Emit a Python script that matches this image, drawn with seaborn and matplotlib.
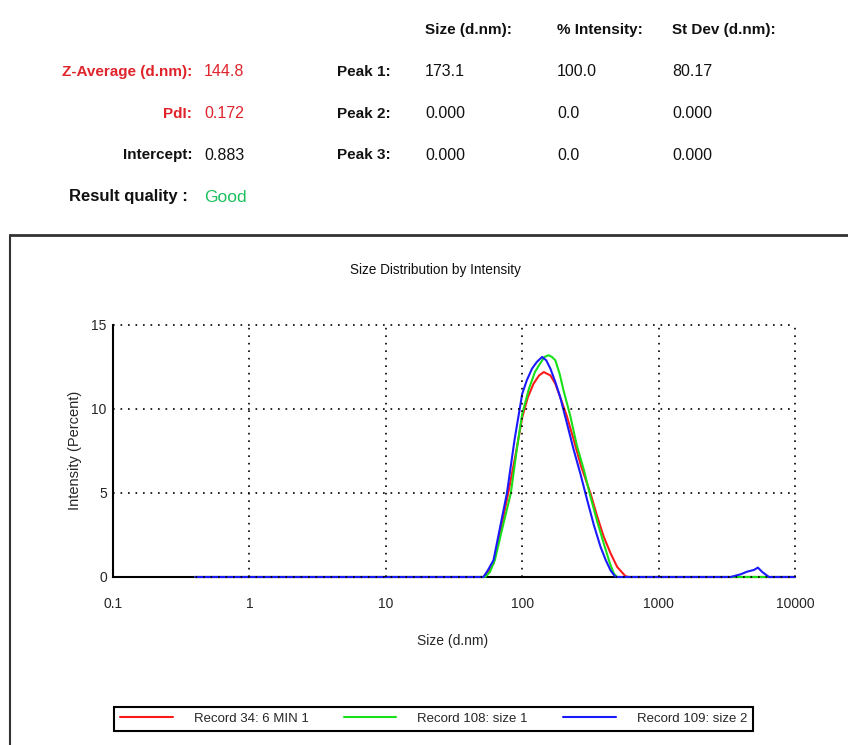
import matplotlib
matplotlib.use('Agg')
import matplotlib.pyplot as plt
import matplotlib.ticker as mticker
from matplotlib.lines import Line2D
import seaborn as sns
import pandas as pd

### DATA

# header summary
summary_labels = ['Z-Average (d.nm):', 'PdI:', 'Intercept:']
summary_values = ['144.8', '0.172', '0.883']
summary_colors = ['#e0242c', '#e0242c', '#111111']
quality = 'Good'

peak_labels = ['Peak 1:', 'Peak 2:', 'Peak 3:']
peak_columns = ['Size (d.nm):', '% Intensity:', 'St Dev (d.nm):']
peak_size = ['173.1', '0.000', '0.000']
peak_intensity = ['100.0', '0.0', '0.0']
peak_stdev = ['80.17', '0.000', '0.000']

# size distribution curves (size in d.nm, intensity in percent)
records = ['Record 34: 6 MIN 1', 'Record 108: size 1', 'Record 109: size 2']

size_34 = [0.4, 52, 56, 61.6, 70, 79, 90, 100, 110, 121, 133, 144, 152, 161, 175,
           190, 212, 238, 270, 316, 355, 396, 445, 497, 571, 604, 10000]
int_34 = [0, 0, 0.3, 0.8, 2.9, 5.0, 7.4, 9.5, 10.7, 11.5, 12.0, 12.2, 12.1, 12.0, 11.5,
          10.7, 9.6, 8.2, 6.6, 5.0, 3.6, 2.4, 1.4, 0.6, 0.05, 0, 0]

size_108 = [0.4, 53.5, 58, 63, 72, 82.6, 92, 100, 112, 124, 135, 146, 156, 165, 175,
            188, 201, 225, 252, 285, 316, 355, 396, 440, 470, 497, 3400, 6400, 10000]
int_108 = [0, 0, 0.3, 1.0, 3.0, 5.0, 7.8, 9.7, 11.2, 12.2, 12.7, 13.1, 13.2, 13.1, 12.9,
           12.1, 11.1, 9.6, 7.8, 6.3, 4.8, 3.3, 2.0, 0.8, 0.2, 0, 0, 0, 0]

size_109 = [0.4, 52, 56, 61.6, 69, 77.3, 88, 100, 108, 118, 128, 140, 150, 161, 175,
            190, 212, 238, 268, 299, 335, 375, 410, 444, 483, 3375, 3992, 4466,
            5000, 5346, 5750, 6440, 10000]
int_109 = [0, 0, 0.4, 1.0, 3.0, 5.0, 8.2, 10.9, 11.7, 12.4, 12.8, 13.1, 12.9, 12.4, 11.6,
           10.7, 9.2, 7.6, 6.1, 4.6, 3.1, 1.8, 1.0, 0.4, 0, 0, 0.16, 0.32, 0.42,
           0.56, 0.3, 0, 0]

colors = ['#ff1a1a', '#19e019', '#1a1aff']

### DATAFRAME

frames = []
for rec, xs, ys in zip(records, [size_34, size_108, size_109], [int_34, int_108, int_109]):
    frames.append(pd.DataFrame({'Size': xs, 'Intensity': ys, 'Record': rec}))
df = pd.concat(frames, ignore_index=True)

### PLOT

sns.set_style('white')
plt.rcParams['font.family'] = ['Liberation Sans Narrow', 'Liberation Sans', 'DejaVu Sans']

W, H = 848, 745
fig = plt.figure(figsize=(W / 100, H / 100), dpi=100)

def fx(px):
    return px / W

def fy(py):
    return 1 - py / H

# header table
for i, (lab, val, col) in enumerate(zip(summary_labels, summary_values, summary_colors)):
    y = fy(72 + i * 41.5)
    fig.text(fx(192), y, lab, ha='right', va='center', fontsize=11, fontweight='bold', color=col)
    fig.text(fx(204), y, val, ha='left', va='center', fontsize=11.5, color=col)
fig.text(fx(188), fy(197), 'Result quality :', ha='right', va='center', fontsize=12, fontweight='bold', color='#111111')
fig.text(fx(204), fy(197), quality, ha='left', va='center', fontsize=12.5, color='#1fbf5f')

col_x = [425, 557, 672]
for cx, name in zip(col_x, peak_columns):
    fig.text(fx(cx), fy(30), name, ha='left', va='center', fontsize=11, fontweight='bold', color='#111111')
for i, lab in enumerate(peak_labels):
    y = fy(72 + i * 41.5)
    fig.text(fx(391), y, lab, ha='right', va='center', fontsize=11, fontweight='bold', color='#111111')
    for cx, vals in zip(col_x, [peak_size, peak_intensity, peak_stdev]):
        fig.text(fx(cx), y, vals[i], ha='left', va='center', fontsize=11.5, color='#111111')

# chart panel border
fig.add_artist(Line2D([fx(10), 1], [fy(235), fy(235)], color='#333333', lw=2))
fig.add_artist(Line2D([fx(10), fx(10)], [0, fy(235)], color='#333333', lw=1.5))

# axes
ax = fig.add_axes([fx(113), fy(577), fx(795) - fx(113), fy(325) - fy(577)])

sns.lineplot(data=df, x='Size', y='Intensity', hue='Record', palette=colors,
             estimator=None, sort=True, legend=False, linewidth=1.5, ax=ax)
for line in ax.lines:
    line.set_clip_on(False)
    line.set_zorder(2)

ax.set_xscale('log')
ax.set_xlim(0.1, 10000)
ax.set_ylim(0, 15)

ax.xaxis.set_major_locator(mticker.LogLocator(base=10, numticks=10))
ax.xaxis.set_minor_locator(mticker.LogLocator(base=10, subs=range(2, 10), numticks=50))
ax.xaxis.set_minor_formatter(mticker.NullFormatter())
ax.xaxis.set_major_formatter(mticker.FuncFormatter(lambda v, p: f'{v:g}'))
ax.yaxis.set_major_locator(mticker.MultipleLocator(5))
ax.yaxis.set_minor_locator(mticker.MultipleLocator(2.5))

ax.tick_params(axis='both', which='major', direction='inout', length=7, width=1.2, color='black', labelsize=10)
ax.tick_params(axis='both', which='minor', direction='inout', length=5, width=1.2, color='black')
ax.tick_params(axis='x', which='major', pad=11)
ax.tick_params(axis='y', which='major', pad=1)

ax.grid(True, which='major', color='black', linestyle=(0, (1, 3.5)), linewidth=1.2)
# ticks sit on top of the curves' zero baseline
ax.set_axisbelow(False)

for side in ['top', 'right']:
    ax.spines[side].set_visible(False)
for side in ['left', 'bottom']:
    ax.spines[side].set_color('black')
    ax.spines[side].set_linewidth(1.5)
ax.spines['bottom'].set_zorder(1.9)

ax.set_xlabel('Size (d.nm)', fontsize=10)
ax.set_ylabel('Intensity (Percent)', fontsize=10.5)
ax.xaxis.set_label_coords((453 - 113) / 682, (577 - 641) / 252)
ax.yaxis.set_label_coords((75 - 113) / 682, (577 - 450) / 252)
ax.xaxis.label.set_va('center')
ax.yaxis.label.set_va('center')

fig.text(fx(435), fy(270), 'Size Distribution by Intensity', ha='center', va='center', fontsize=9.8, color='#111111')

# draw once so gridlines exist, then let the edge gridlines show in full
fig.canvas.draw()
for gl in ax.get_xgridlines() + ax.get_ygridlines():
    gl.set_clip_on(False)

# legend
handles = [Line2D([], [], color=c, lw=1.5) for c in colors]
leg = fig.legend(handles, records, loc='lower left', ncol=3, mode='expand',
                 bbox_to_anchor=(fx(114), fy(731), fx(753) - fx(114), fy(702) - fy(731)),
                 frameon=True, fancybox=False, edgecolor='black', framealpha=1,
                 handlelength=4.0, handletextpad=1.6, borderaxespad=0, borderpad=0.45,
                 fontsize=9.5)
leg.get_frame().set_linewidth(1.5)

plt.savefig('out.png', dpi=100)
